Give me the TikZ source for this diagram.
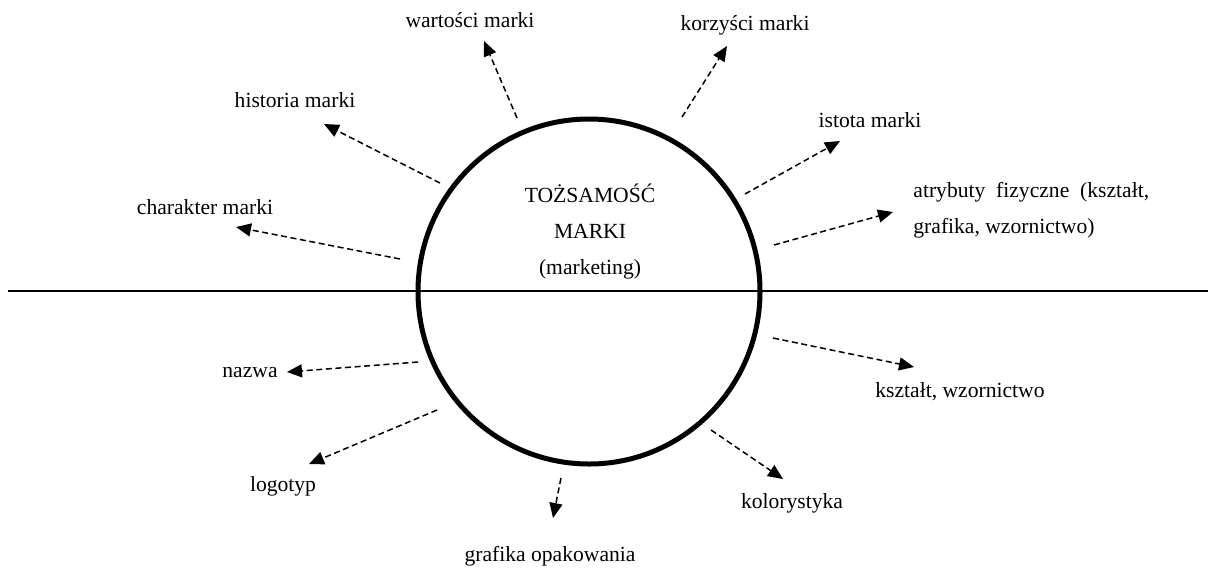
\documentclass[tikz,border=0pt]{standalone}
\usepackage{fontspec}
\setmainfont{Liberation Serif}
\usetikzlibrary{arrows.meta,shapes.geometric}
\begin{document}
\begin{tikzpicture}[x=0.5pt,y=-0.5pt,
  lbl/.style={inner sep=0pt,font=\fontsize{10.8}{18}\selectfont},
  feat/.style={draw,line width=0.75pt,dash pattern=on 3pt off 1.8pt,
    -{Triangle[length=7.5pt,width=6.5pt]}},
  core/.style={draw,line width=2.5pt}]
\useasboundingbox (0,0) rectangle (1208,569);

% dividing line and central ellipse
\coordinate (lineL) at (8,291);
\coordinate (lineR) at (1208,291);
\draw[line width=1pt] (lineL) -- (lineR);
\node[core,ellipse,minimum width=171pt,minimum height=172.5pt,inner sep=0pt] (id) at (589,291.5) {};
\node[lbl,align=center] (idtxt) at (590,232)
  {TOŻSAMOŚĆ\\[0pt]MARKI\\[0pt](marketing)};

% labels
\node[lbl] (wart) at (470,20) {wartości marki};
\node[lbl] (korz) at (745,25) {korzyści marki};
\node[lbl] (hist) at (295,100) {historia marki};
\node[lbl] (isto) at (870,120) {istota marki};
\node[lbl] (char) at (205,207) {charakter marki};
\node[lbl,align=left,anchor=west] (atr) at (913,210)
  {atrybuty\ \ fizyczne\ \ (kształt,\\grafika, wzornictwo)};
\node[lbl] (nazw) at (250,373) {nazwa};
\node[lbl] (kszt) at (960,392) {kształt, wzornictwo};
\node[lbl] (logo) at (283,486) {logotyp};
\node[lbl] (kolo) at (792,503) {kolorystyka};
\node[lbl] (graf) at (550,556) {grafika opakowania};

% arrow ends
\coordinate (sWart) at (517,118); \coordinate (tWart) at (484,41);
\coordinate (sKorz) at (682,117); \coordinate (tKorz) at (727,46);
\coordinate (sHist) at (440,183); \coordinate (tHist) at (324,124);
\coordinate (sIsto) at (745,194); \coordinate (tIsto) at (840,141);
\coordinate (sAtr)  at (774,245); \coordinate (tAtr)  at (893,212);
\coordinate (sChar) at (400,259); \coordinate (tChar) at (236,227);
\coordinate (sNazw) at (418,362); \coordinate (tNazw) at (287,372);
\coordinate (sKszt) at (773,338); \coordinate (tKszt) at (914,367);
\coordinate (sLogo) at (437,410); \coordinate (tLogo) at (309,464);
\coordinate (sKolo) at (711,430); \coordinate (tKolo) at (783,479);
\coordinate (sGraf) at (561,478); \coordinate (tGraf) at (553,518);

\foreach \n in {Wart,Korz,Hist,Isto,Atr,Char,Nazw,Kszt,Logo,Kolo,Graf}
  \draw[feat] (s\n) -- (t\n);
\end{tikzpicture}
\end{document}
